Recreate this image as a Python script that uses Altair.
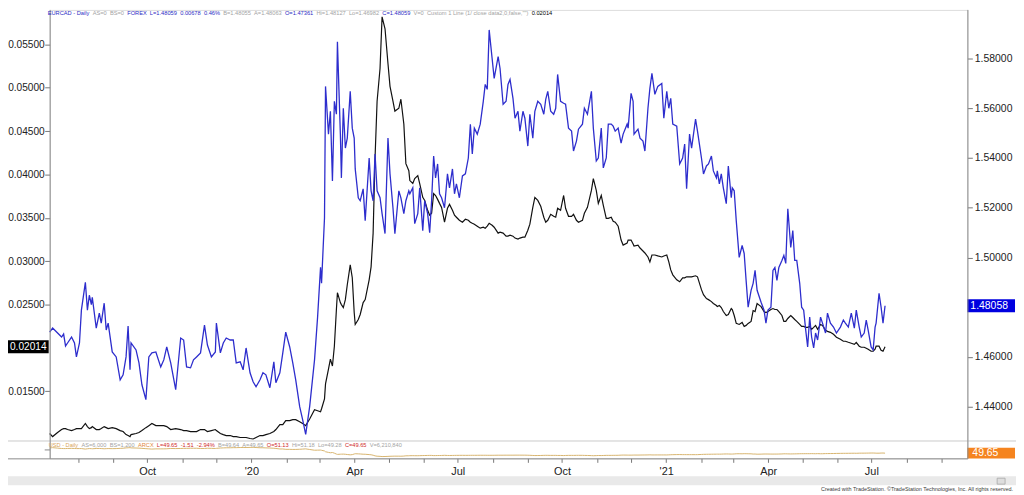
import altair as alt
import pandas as pd

# ---------------- data ----------------
start_date = "2019-07-07"

# calendar days after start_date for every sample
day_offset = [0.0, 2.6, 7.0, 10.5, 12.3, 14.0, 15.8, 19.3, 21.9, 23.6,
26.3, 28.0, 31.5, 33.3, 35.0, 36.8, 37.6, 41.1, 43.8, 45.5,
48.1, 49.9, 51.6, 55.2, 58.7, 62.2, 64.8, 67.4, 69.2, 70.9,
71.8, 76.2, 78.8, 81.4, 84.9, 87.5, 90.2, 93.7, 98.0, 100.7,
103.3, 106.8, 111.2, 115.6, 118.2, 120.8, 124.3, 126.9, 129.6, 133.1,
136.6, 139.2, 142.7, 146.2, 147.1, 150.6, 153.2, 155.8, 159.3, 162.0,
164.6, 168.1, 170.7, 173.3, 176.8, 179.5, 182.1, 185.6, 188.2, 190.8,
194.3, 197.8, 199.6, 203.1, 205.7, 208.3, 211.8, 214.5, 217.1, 220.6,
223.2, 225.9, 229.4, 233.7, 236.4, 239.0, 239.9, 242.5, 243.4, 246.0,
247.7, 249.5, 251.2, 253.0, 253.9, 256.5, 257.4, 259.1, 260.9, 262.6,
265.2, 267.0, 268.7, 269.6, 272.3, 274.0, 276.6, 278.4, 281.9, 283.6,
285.4, 287.1, 288.9, 291.5, 293.3, 295.9, 298.5, 300.3, 302.9, 304.6,
308.1, 309.9, 312.5, 314.3, 316.9, 317.8, 320.4, 322.1, 324.8, 326.5,
329.2, 330.9, 333.5, 335.3, 337.0, 338.8, 340.5, 342.3, 344.0, 345.8,
348.4, 351.0, 352.8, 355.4, 357.2, 358.9, 361.5, 364.2, 366.8, 369.4,
371.2, 372.9, 374.7, 377.3, 379.9, 382.6, 384.3, 386.1, 387.8, 390.4,
392.2, 395.7, 397.4, 400.1, 402.7, 404.4, 406.2, 408.8, 410.6, 413.2,
414.9, 417.6, 419.3, 421.9, 423.7, 426.3, 428.1, 430.7, 433.3, 436.0,
437.7, 439.5, 442.1, 444.7, 446.5, 448.2, 450.8, 453.5, 455.2, 457.8,
460.5, 462.2, 464.8, 466.6, 470.1, 471.8, 474.5, 478.0, 479.7, 482.3,
484.1, 486.7, 488.5, 491.1, 492.9, 495.5, 497.2, 499.0, 501.6, 504.2,
506.0, 509.5, 510.4, 513.0, 514.8, 515.6, 519.1, 520.9, 523.5, 525.2,
527.9, 529.6, 531.4, 534.0, 536.6, 540.1, 541.9, 544.5, 546.3, 548.0,
549.8, 553.3, 555.9, 558.5, 560.3, 562.0, 564.6, 566.4, 569.9, 571.6,
575.1, 576.9, 579.5, 581.3, 583.9, 585.6, 588.3, 589.1, 590.9, 592.6,
594.4, 597.0, 598.8, 601.4, 602.3, 604.0, 605.8, 608.4, 611.0, 612.8,
614.5, 616.3, 618.9, 620.7, 622.4, 624.2, 627.7, 630.3, 632.0, 633.8,
636.4, 638.2, 639.9, 641.7, 643.4, 646.1, 647.8, 649.5, 651.3, 653.9,
655.7, 657.4, 659.2, 661.8, 663.5, 665.3, 667.1, 668.8, 670.6, 672.3,
674.1, 675.8, 677.6, 680.2, 681.9, 684.6, 686.3, 688.9, 691.6, 694.2,
697.7, 700.3, 702.1, 704.7, 707.3, 710.0, 711.7, 714.3, 716.1, 718.7,
720.5, 722.2, 724.8, 726.6, 728.3, 729.2, 731.8, 733.6, 735.3, 737.1]

# EURCAD daily close (blue, right axis)
eurcad_close = [1.4700, 1.4716, 1.4696, 1.4680, 1.4692, 1.4644, 1.4656, 1.4680, 1.4656, 1.4600,
1.4656, 1.4788, 1.4900, 1.4788, 1.4848, 1.4810, 1.4840, 1.4716, 1.4776, 1.4736,
1.4816, 1.4708, 1.4736, 1.4620, 1.4600, 1.4508, 1.4528, 1.4600, 1.4724, 1.4548,
1.4656, 1.4628, 1.4576, 1.4488, 1.4428, 1.4600, 1.4616, 1.4620, 1.4560, 1.4588,
1.4640, 1.4576, 1.4468, 1.4676, 1.4668, 1.4560, 1.4556, 1.4588, 1.4600, 1.4616,
1.4728, 1.4648, 1.4600, 1.4620, 1.4736, 1.4616, 1.4656, 1.4676, 1.4668, 1.4668,
1.4576, 1.4580, 1.4548, 1.4636, 1.4536, 1.4500, 1.4480, 1.4508, 1.4536, 1.4528,
1.4476, 1.4580, 1.4496, 1.4536, 1.4616, 1.4700, 1.4640, 1.4576, 1.4508, 1.4400,
1.4348, 1.4288, 1.4400, 1.4588, 1.4760, 1.4960, 1.4896, 1.5160, 1.5688, 1.5496,
1.5588, 1.5308, 1.5628, 1.5576, 1.5867, 1.5496, 1.5320, 1.5600, 1.5440, 1.5480,
1.5668, 1.5520, 1.5480, 1.5356, 1.5240, 1.5228, 1.5276, 1.5148, 1.5400, 1.5268,
1.5228, 1.5416, 1.5268, 1.5240, 1.5176, 1.5096, 1.5480, 1.5336, 1.5200, 1.5096,
1.5268, 1.5240, 1.5176, 1.5228, 1.5268, 1.5256, 1.5280, 1.5136, 1.5176, 1.5280,
1.5108, 1.5228, 1.5176, 1.5100, 1.5228, 1.5408, 1.5320, 1.5376, 1.5256, 1.5240,
1.5200, 1.5336, 1.5280, 1.5356, 1.5256, 1.5296, 1.5240, 1.5328, 1.5336, 1.5400,
1.5536, 1.5416, 1.5520, 1.5496, 1.5536, 1.5628, 1.5696, 1.5676, 1.5915, 1.5800,
1.5720, 1.5808, 1.5760, 1.5616, 1.5628, 1.5696, 1.5716, 1.5640, 1.5560, 1.5588,
1.5508, 1.5588, 1.5560, 1.5448, 1.5576, 1.5480, 1.5588, 1.5628, 1.5616, 1.5576,
1.5636, 1.5668, 1.5588, 1.5576, 1.5600, 1.5736, 1.5628, 1.5620, 1.5616, 1.5520,
1.5508, 1.5428, 1.5468, 1.5516, 1.5536, 1.5600, 1.5576, 1.5668, 1.5520, 1.5388,
1.5400, 1.5520, 1.5360, 1.5400, 1.5536, 1.5536, 1.5528, 1.5508, 1.5520, 1.5460,
1.5496, 1.5536, 1.5520, 1.5660, 1.5628, 1.5496, 1.5516, 1.5480, 1.5468, 1.5428,
1.5600, 1.5680, 1.5740, 1.5656, 1.5688, 1.5700, 1.5560, 1.5668, 1.5600, 1.5640,
1.5536, 1.5528, 1.5376, 1.5400, 1.5456, 1.5276, 1.5496, 1.5440, 1.5556, 1.5508,
1.5400, 1.5336, 1.5368, 1.5376, 1.5408, 1.5348, 1.5320, 1.5348, 1.5296, 1.5336,
1.5280, 1.5216, 1.5368, 1.5240, 1.5280, 1.5268, 1.5148, 1.5000, 1.5048, 1.5016,
1.4908, 1.4800, 1.4868, 1.4896, 1.4948, 1.4868, 1.4820, 1.4788, 1.4736, 1.4788,
1.4800, 1.4948, 1.4960, 1.4908, 1.4960, 1.4988, 1.5008, 1.4976, 1.5196, 1.5040,
1.5108, 1.4988, 1.4988, 1.4896, 1.4800, 1.4788, 1.4708, 1.4640, 1.4760, 1.4680,
1.4636, 1.4696, 1.4668, 1.4760, 1.4736, 1.4696, 1.4776, 1.4736, 1.4720, 1.4696,
1.4720, 1.4748, 1.4736, 1.4720, 1.4776, 1.4716, 1.4788, 1.4720, 1.4680, 1.4696,
1.4748, 1.4708, 1.4640, 1.4628, 1.4720, 1.4736, 1.4856, 1.4800, 1.4736, 1.48058]

# Custom 1 Line = 1 / close of data2 (black, left axis)
inverse_data2 = [0.01013, 0.00978, 0.01024, 0.01059, 0.01070, 0.01070, 0.01059, 0.01047, 0.01059, 0.01070,
0.01070, 0.01070, 0.01129, 0.01093, 0.01070, 0.01081, 0.01093, 0.01059, 0.01059, 0.01070,
0.01093, 0.01081, 0.01070, 0.01081, 0.01070, 0.01047, 0.01036, 0.01001, 0.00990, 0.00978,
0.01001, 0.01013, 0.01024, 0.01047, 0.01081, 0.01104, 0.01129, 0.01104, 0.01104, 0.01104,
0.01093, 0.01059, 0.01070, 0.01059, 0.01047, 0.01047, 0.01036, 0.01036, 0.01036, 0.01059,
0.01059, 0.01036, 0.01047, 0.01059, 0.01047, 0.01013, 0.01001, 0.00990, 0.00990, 0.00978,
0.00978, 0.00967, 0.00967, 0.00967, 0.00956, 0.00950, 0.00967, 0.00990, 0.00990, 0.01001,
0.01013, 0.01036, 0.01059, 0.01116, 0.01116, 0.01162, 0.01162, 0.01173, 0.01173, 0.01150,
0.01129, 0.01104, 0.01181, 0.01287, 0.01276, 0.01264, 0.01299, 0.01413, 0.01585, 0.01756,
0.01871, 0.01791, 0.02020, 0.02443, 0.02637, 0.02523, 0.02500, 0.02466, 0.02557, 0.02729,
0.02958, 0.02809, 0.02409, 0.02271, 0.02328, 0.02386, 0.02523, 0.02557, 0.02786, 0.02935,
0.03324, 0.04193, 0.04845, 0.05223, 0.05818, 0.05680, 0.05280, 0.05017, 0.04845, 0.04731,
0.04765, 0.04868, 0.04582, 0.04125, 0.04044, 0.03930, 0.03896, 0.03953, 0.03987, 0.03896,
0.03736, 0.03701, 0.03587, 0.03530, 0.03553, 0.03781, 0.03758, 0.03713, 0.03667, 0.03621,
0.03450, 0.03610, 0.03655, 0.03587, 0.03530, 0.03507, 0.03472, 0.03450, 0.03484, 0.03472,
0.03450, 0.03438, 0.03427, 0.03404, 0.03381, 0.03392, 0.03381, 0.03404, 0.03438, 0.03415,
0.03392, 0.03324, 0.03335, 0.03324, 0.03289, 0.03289, 0.03301, 0.03289, 0.03267, 0.03255,
0.03267, 0.03278, 0.03278, 0.03358, 0.03427, 0.03621, 0.03736, 0.03701, 0.03633, 0.03507,
0.03450, 0.03472, 0.03541, 0.03518, 0.03507, 0.03610, 0.03587, 0.03758, 0.03610, 0.03518,
0.03518, 0.03541, 0.03472, 0.03450, 0.03472, 0.03553, 0.03621, 0.03816, 0.03953, 0.03816,
0.03667, 0.03758, 0.03644, 0.03495, 0.03495, 0.03507, 0.03461, 0.03450, 0.03404, 0.03244,
0.03186, 0.03209, 0.03244, 0.03244, 0.03198, 0.03175, 0.03186, 0.03152, 0.03118, 0.03095,
0.03049, 0.02992, 0.03072, 0.03072, 0.03061, 0.03049, 0.03061, 0.03072, 0.02992, 0.02900,
0.02843, 0.02786, 0.02763, 0.02809, 0.02809, 0.02820, 0.02820, 0.02820, 0.02832, 0.02820,
0.02672, 0.02614, 0.02569, 0.02557, 0.02534, 0.02512, 0.02489, 0.02477, 0.02489, 0.02466,
0.02420, 0.02374, 0.02386, 0.02454, 0.02443, 0.02374, 0.02283, 0.02271, 0.02294, 0.02248,
0.02260, 0.02283, 0.02306, 0.02431, 0.02420, 0.02512, 0.02477, 0.02420, 0.02409, 0.02420,
0.02443, 0.02454, 0.02443, 0.02443, 0.02420, 0.02374, 0.02306, 0.02306, 0.02340, 0.02374,
0.02351, 0.02328, 0.02306, 0.02271, 0.02248, 0.02248, 0.02237, 0.02237, 0.02248, 0.02214,
0.02237, 0.02260, 0.02214, 0.02271, 0.02260, 0.02203, 0.02191, 0.02180, 0.02157, 0.02123,
0.02100, 0.02077, 0.02077, 0.02065, 0.02054, 0.02042, 0.02065, 0.02020, 0.02008, 0.02008,
0.01997, 0.01985, 0.01962, 0.01962, 0.01985, 0.02020, 0.02020, 0.01974, 0.01962, 0.02014]

left_ticks = [0.015, 0.025, 0.030, 0.035, 0.040, 0.045, 0.050, 0.055]
right_ticks = [1.44, 1.46, 1.50, 1.52, 1.54, 1.56, 1.58]

top_legend_texts = ["EURCAD - Daily", "AS=0", "BS=0", "FOREX", "L=1.48059", "0.00678",
                    "0.46%", "B=1.48055", "A=1.48063", "O=1.47361", "Hi=1.48127",
                    "Lo=1.46982", "C=1.48059", "V=0",
                    'Custom 1 Line (1/ close data2,0,false,"")', "0.02014"]
bottom_legend_texts = ["USD - Daily", "AS=6,000", "BS=1,200", "ARCX", "L=49.65", "-1.51",
                       "-2.94%", "B=49.64", "A=49.65", "O=51.13", "Hi=51.18",
                       "Lo=49.28", "C=49.65", "V=6,210,840"]
credit_text = "Created with TradeStation. \u00a9TradeStation Technologies, Inc. All rights reserved."

# ---------------- styles / layout ----------------
FONT = "Liberation Sans"
BLUE = "#2d2dcd"
LBLUE = "#2b2bc4"
GRAY = "#a3a3a3"
RED = "#d02a2a"
TAN = "#d9a55a"
ORANGE = "#e2873a"
AXIS_GRAY = "#8a8a8a"

top_colors = [LBLUE, GRAY, GRAY, LBLUE, LBLUE, LBLUE, LBLUE, GRAY, GRAY, LBLUE, GRAY,
              GRAY, LBLUE, GRAY, GRAY, "#000000"]
top_x_page = [48.0, 93.3, 110.7, 128.1, 151.0, 181.5, 205.5, 224.9, 256.0, 287.1, 318.9,
              351.6, 385.3, 416.7, 430.3, 535.8]
bottom_colors = [TAN, GRAY, GRAY, ORANGE, RED, RED, RED, GRAY, GRAY, RED, GRAY, GRAY, RED, GRAY]
bottom_x_page = [49.0, 82.0, 110.5, 139.0, 158.0, 182.1, 198.3, 219.6, 244.2, 268.9, 294.2,
                 320.4, 347.6, 372.5]

W, H = 925, 452          # plot: page x 50..975, page y 8..460
PX, PY = 50, 8           # page offset of plot origin

dates = pd.Timestamp(start_date) + pd.to_timedelta(day_offset, unit="D")
df = pd.DataFrame({
    "date": dates.strftime("%Y-%m-%dT%H:%M:%S"),
    "eur": eurcad_close,
    "inv": inverse_data2,
})
last = df.tail(1).reset_index(drop=True)
one = pd.DataFrame({"k": [0]})

x_axis = alt.Axis(
    title=None, domain=False, grid=False,
    tickCount={"interval": "month", "step": 1},
    labelExpr="month(datum.value) == 0 ? timeFormat(datum.value, \"'%y\") : "
              "(month(datum.value) % 3 == 0 ? timeFormat(datum.value, '%b') : '')",
    labelOverlap=False, labelFlush=False, tickSize=4, tickColor="#777777",
    labelFontSize=11, labelFont=FONT, labelColor="#222222", labelPadding=3,
)
x_enc = alt.X(
    "date:T",
    scale=alt.Scale(domain=[alt.DateTime(year=2019, month=7, date=7),
                            alt.DateTime(year=2021, month=9, date=23, hours=17, minutes=53)]),
    axis=x_axis,
)

y_left = alt.Y(
    "inv:Q",
    scale=alt.Scale(domain=[0.009556, 0.058977], range=[432, 0], nice=False, zero=False),
    axis=alt.Axis(orient="left", values=left_ticks, format=".5f", domain=False, grid=False,
                  tickSize=5, tickColor="#777777", labelPadding=0.5, labelFontSize=10.2,
                  labelFont=FONT, labelColor="#222222", title=None),
)
y_right = alt.Y(
    "eur:Q",
    scale=alt.Scale(domain=[1.427183, 1.599551], range=[432, 0], nice=False, zero=False),
    axis=alt.Axis(orient="right", values=right_ticks, format=".5f", domain=False, grid=False,
                  tickSize=5, tickColor="#777777", labelPadding=2, labelFontSize=10.5,
                  labelFont=FONT, labelColor="#222222", title=None),
)
y_sub = alt.Y("usd:Q", scale=alt.Scale(domain=[0, 180], range=[452, 433], nice=False, zero=False),
              axis=None)

# black series + last-value box on the left
black_grp = alt.layer(
    alt.Chart(df).mark_line(color="#111111", strokeWidth=1.2).encode(x=x_enc, y=y_left),
    alt.Chart(last).mark_rect(color="#000000", yOffset=-6.5, y2Offset=6.5).encode(
        x=alt.value(-42), x2=alt.value(-1), y=y_left, y2="inv:Q"),
    alt.Chart(last).mark_text(align="left", baseline="middle", color="white",
                              fontSize=10.2, font=FONT).encode(
        x=alt.value(-40), y=y_left, text=alt.Text("inv:Q", format=".5f")),
)

# blue series + last-value box on the right
blue_grp = alt.layer(
    alt.Chart(df).mark_line(color=BLUE, strokeWidth=1.3).encode(x=x_enc, y=y_right),
    alt.Chart(last).mark_rect(color="#0000e0", yOffset=-6.5, y2Offset=6.5).encode(
        x=alt.value(W), x2=alt.value(W + 48), y=y_right, y2="eur:Q"),
    alt.Chart(last).mark_text(align="left", baseline="middle", color="white",
                              fontSize=10.5, font=FONT).encode(
        x=alt.value(W + 3), y=y_right, text=alt.Text("eur:Q", format=".5f")),
)

# data2 sub-pane (close of data2 = 1 / custom line)
tan_grp = alt.layer(
    alt.Chart(df).transform_calculate(usd="1 / datum.inv").mark_line(
        color="#d8b46e", strokeWidth=1).encode(x=x_enc, y=y_sub),
    alt.Chart(last).transform_calculate(usd="1 / datum.inv").mark_rect(
        color="#f5841f", yOffset=-5.5, y2Offset=5.5).encode(
        x=alt.value(W), x2=alt.value(W + 48), y=y_sub, y2="usd:Q"),
    alt.Chart(last).transform_calculate(usd="1 / datum.inv").mark_text(
        align="left", baseline="middle", color="white", fontSize=10.5, font=FONT).encode(
        x=alt.value(W + 5), y=y_sub, text=alt.Text("usd:Q", format=".2f")),
)


def hrule(x1, x2, y, color, width=1.0):
    return alt.Chart(one).mark_rule(color=color, strokeWidth=width).encode(
        x=alt.value(x1), x2=alt.value(x2), y=alt.value(y))


def vrule(x, y1, y2, color, width=1.0):
    return alt.Chart(one).mark_rule(color=color, strokeWidth=width).encode(
        x=alt.value(x), y=alt.value(y1), y2=alt.value(y2))


def box(x1, x2, y1, y2, color, stroke=None):
    kw = {"color": color}
    if stroke:
        kw = {"fill": color, "stroke": stroke, "strokeWidth": 0.8}
    return alt.Chart(one).mark_rect(**kw).encode(
        x=alt.value(x1), x2=alt.value(x2), y=alt.value(y1), y2=alt.value(y2))


def label(text, xp, yp, color, size, align="left", baseline="middle"):
    return alt.Chart(one).mark_text(text=text, align=align, baseline=baseline, color=color,
                                    fontSize=size, font=FONT).encode(
        x=alt.value(xp - PX), y=alt.value(yp - PY))


decor = [
    box(-42, 974, 470, 479, "#e9e9e9"),
    box(955, 963, 472, 478, "#dedede", stroke="#a8a8a8"),
    hrule(-42, 974, 434.5, "#c9c9c9"),
    hrule(-42, W + 0.5, 452.5, AXIS_GRAY),
    vrule(0.5, 0, 452.5, AXIS_GRAY),
    vrule(W + 0.5, 0, 452.5, AXIS_GRAY),
    hrule(-5, 0.5, 443.5, AXIS_GRAY),
]
texts = [label(t, x, 11.5, c, 5.75) for t, x, c in zip(top_legend_texts, top_x_page, top_colors)]
texts += [label(t, x, 447, c, 5.7) for t, x, c in zip(bottom_legend_texts, bottom_x_page, bottom_colors)]
texts.append(label(credit_text, 1021, 491, "#3a3a3a", 5.5, align="right"))

chart = alt.layer(black_grp, blue_grp, tan_grp, *decor, *texts).resolve_scale(
    y="independent"
).properties(
    width=W, height=H,
    padding={"left": 42, "top": 0, "right": 49, "bottom": 35},
    autosize=alt.AutoSizeParams(type="none"),
    background="white",
).configure_view(stroke=None).configure(font=FONT)

chart.save("out.html", embed_options={"renderer": "svg", "actions": False})
